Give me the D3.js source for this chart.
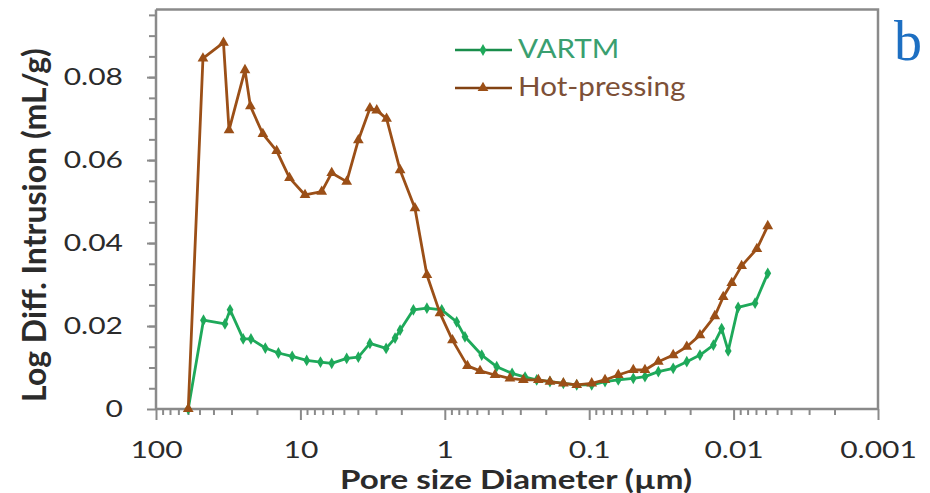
<!DOCTYPE html>
<html>
<head>
<meta charset="utf-8">
<script src="https://cdn.jsdelivr.net/npm/d3@7"></script>
<style>
    body { margin: 0; background: #fff; }
    svg { display: block; }
    text { font-family: Lato, "Open Sans", sans-serif; }
</style>
</head>
<body>
<svg id="chart" width="930" height="493"></svg>
<script>
// values (pore diameter in µm, log diff. intrusion in mL/g)
const vartmDiameter = [59.8, 46.9, 33.3, 30.7, 24.9, 22.0, 17.5, 14.2, 11.4, 9.04, 7.26, 6.07, 4.78, 3.97, 3.30, 2.55, 2.21, 2.04, 1.65, 1.33, 1.05, 0.827, 0.725, 0.555, 0.437, 0.342, 0.278, 0.231, 0.187, 0.151, 0.122, 0.0961, 0.0777, 0.0629, 0.0495, 0.0411, 0.0332, 0.0262, 0.0211, 0.0171, 0.0138, 0.0121, 0.0109, 0.0093, 0.0071, 0.0058]
const vartmIntrusion = [0, 0.0214, 0.0205, 0.0239, 0.0169, 0.0169, 0.0147, 0.0135, 0.0127, 0.0117, 0.0113, 0.0110, 0.0122, 0.0125, 0.0158, 0.0146, 0.0171, 0.0190, 0.0239, 0.0243, 0.0239, 0.0210, 0.0174, 0.0130, 0.0102, 0.0086, 0.0077, 0.0070, 0.0066, 0.0062, 0.0058, 0.0058, 0.0066, 0.0070, 0.0074, 0.0078, 0.0090, 0.0098, 0.0114, 0.0130, 0.0154, 0.0194, 0.0140, 0.0245, 0.0255, 0.0327]

const hotDiameter = [59.8, 47.3, 34.1, 31.2, 24.2, 22.2, 18.2, 14.6, 11.9, 9.29, 7.12, 6.07, 4.78, 3.97, 3.30, 2.96, 2.53, 2.04, 1.61, 1.33, 1.08, 0.885, 0.697, 0.570, 0.449, 0.354, 0.286, 0.225, 0.187, 0.151, 0.122, 0.0961, 0.0777, 0.0629, 0.0495, 0.0411, 0.0332, 0.0262, 0.0211, 0.0171, 0.0135, 0.0118, 0.0103, 0.0088, 0.0069, 0.0058]
const hotIntrusion = [0, 0.0845, 0.0883, 0.0672, 0.0817, 0.0730, 0.0663, 0.0622, 0.0557, 0.0516, 0.0524, 0.0569, 0.0548, 0.0648, 0.0725, 0.0720, 0.0700, 0.0576, 0.0484, 0.0323, 0.0231, 0.0166, 0.0104, 0.0092, 0.0082, 0.0074, 0.0070, 0.0070, 0.0066, 0.0062, 0.0058, 0.0062, 0.0070, 0.0082, 0.0094, 0.0094, 0.0114, 0.0130, 0.0150, 0.0178, 0.0224, 0.0270, 0.0304, 0.0345, 0.0386, 0.0441]

const xTicks = [100, 10, 1, 0.1, 0.01, 0.001]
const xTickLabels = ['100', '10', '1', '0.1', '0.01', '0.001']
const yTicks = [0, 0.02, 0.04, 0.06, 0.08]
const yTickLabels = ['0', '0.02', '0.04', '0.06', '0.08']

const seriesNames = ['VARTM', 'Hot-pressing']

// the source figure is stretched sideways, text gets the same treatment
const SX = 1.25

const plot = { left: 156, right: 878, top: 9.5, bottom: 409 }

const svg = d3.select('#chart')

const x = d3.scaleLog()
    .domain([100, 0.001])
    .range([plot.left, plot.right])

const y = d3.scaleLinear()
    .domain([0, 0.0963])
    .range([plot.bottom, plot.top])

const axisGrey = '#8a8a8a'
const labelColor = '#2b2b2b'

// minor ticks
const yMinor = d3.range(0.005, 0.0961, 0.005)
svg.append('g')
    .attr('transform', `translate(${plot.left},0)`)
    .call(d3.axisLeft(y).tickValues(yMinor).tickSize(7).tickFormat(''))
    .call(g => g.select('.domain').remove())
    .call(g => g.selectAll('line').attr('stroke', axisGrey).attr('stroke-width', 2))

let xMinor = []
for (let k = -3; k < 2; k++) {
    for (let m = 2; m < 10; m++) xMinor.push(m * Math.pow(10, k))
}
svg.append('g')
    .attr('transform', `translate(0,${plot.bottom})`)
    .call(d3.axisBottom(x).tickValues(xMinor).tickSize(6).tickFormat(''))
    .call(g => g.select('.domain').remove())
    .call(g => g.selectAll('line').attr('stroke', axisGrey).attr('stroke-width', 2))

// frame: top and right edge
svg.append('path')
    .attr('d', `M${plot.left},${plot.top}H${plot.right}V${plot.bottom}`)
    .attr('fill', 'none')
    .attr('stroke', axisGrey)
    .attr('stroke-width', 2.5)

// major axes
const yAxis = svg.append('g')
    .attr('transform', `translate(${plot.left},0)`)
    .call(d3.axisLeft(y).tickValues(yTicks).tickSize(9)
        .tickFormat((d, i) => yTickLabels[i]))

yAxis.select('.domain')
    .attr('d', `M0,${plot.top}V${plot.bottom}`)
    .attr('stroke', axisGrey).attr('stroke-width', 2.5)
yAxis.selectAll('line').attr('stroke', axisGrey).attr('stroke-width', 2)
yAxis.selectAll('text')
    .attr('x', null)
    .attr('transform', `translate(-33,0) scale(${SX},1)`)
    .attr('fill', labelColor)
    .style('font-size', '24px')

const xAxis = svg.append('g')
    .attr('transform', `translate(0,${plot.bottom})`)
    .call(d3.axisBottom(x).tickValues(xTicks).tickSize(11)
        .tickFormat((d, i) => xTickLabels[i]))

xAxis.select('.domain')
    .attr('d', `M${plot.left},0H${plot.right}`)
    .attr('stroke', axisGrey).attr('stroke-width', 2.5)
xAxis.selectAll('line').attr('stroke', axisGrey).attr('stroke-width', 2)
xAxis.selectAll('text')
    .attr('y', 32)
    .attr('transform', `scale(${SX},1)`)
    .attr('fill', labelColor)
    .style('font-size', '24px')

// axis titles
svg.append('text')
    .attr('transform', `translate(516,489) scale(${SX},1)`)
    .attr('text-anchor', 'middle')
    .attr('fill', labelColor)
    .style('font-size', '26.5px')
    .style('font-weight', 'bold')
    .text('Pore size Diameter (µm)')

svg.append('text')
    .attr('transform', 'translate(46,225) rotate(-90)')
    .attr('text-anchor', 'middle')
    .attr('fill', labelColor)
    .style('font-size', '32px')
    .style('font-weight', 'bold')
    .text('Log Diff. Intrusion (mL/g)')

// series
const series = [
    { name: seriesNames[0], d: vartmDiameter, v: vartmIntrusion, color: '#1ea95a', text: '#3a9f70', symbol: d3.symbolDiamond, size: 40 },
    { name: seriesNames[1], d: hotDiameter, v: hotIntrusion, color: '#9b4f17', text: '#7d5037', symbol: d3.symbolTriangle, size: 50 }
]

const line = d3.line()
    .x(p => x(p[0]))
    .y(p => y(p[1]))

series.forEach(s => {
    const pts = s.d.map((d, i) => [d, s.v[i]])
    const g = svg.append('g').attr('class', 'series')

    g.append('path')
        .datum(pts)
        .attr('d', line)
        .attr('fill', 'none')
        .attr('stroke', s.color)
        .attr('stroke-width', 2.8)
        .attr('stroke-linejoin', 'round')

    g.selectAll('.marker')
        .data(pts)
        .enter().append('path')
        .attr('class', 'marker')
        .attr('d', d3.symbol(s.symbol, s.size))
        .attr('transform', p => `translate(${x(p[0])},${y(p[1])})`)
        .attr('fill', s.color)
})

// legend
const legend = svg.append('g')
    .selectAll('g')
    .data(series)
    .enter().append('g')
    .attr('transform', (d, i) => `translate(455,${50 + i * 38})`)

legend.append('line')
    .attr('x1', 0).attr('x2', 57)
    .attr('stroke', d => d3.color(d.color).darker(0.5))
    .attr('stroke-width', 2.6)

legend.append('path')
    .attr('d', d => d3.symbol(d.symbol, d.size)())
    .attr('transform', 'translate(28,0)')
    .attr('fill', d => d.color)

legend.append('text')
    .attr('transform', `translate(63,8) scale(1.14,1)`)
    .attr('fill', d => d.text)
    .style('font-size', '26px')
    .text(d => d.name)

// panel letter
svg.append('text')
    .attr('x', 894)
    .attr('y', 60)
    .attr('fill', '#1d6fc2')
    .style('font-family', '"Liberation Serif", "DejaVu Serif", serif')
    .style('font-size', '56px')
    .text('b')
</script>
</body>
</html>
